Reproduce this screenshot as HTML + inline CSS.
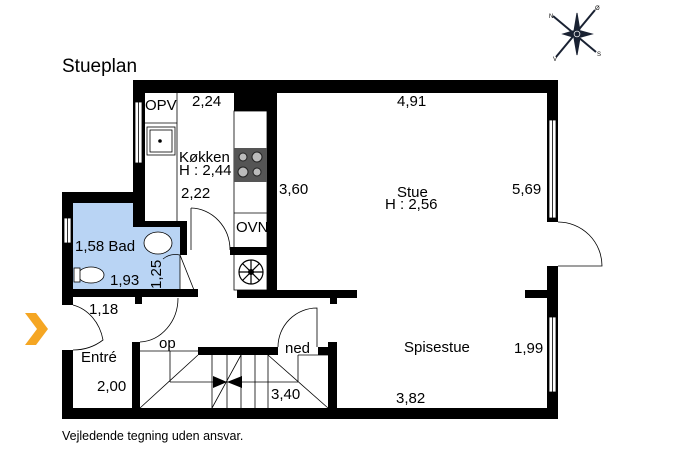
<!DOCTYPE html>
<html><head><meta charset="utf-8"><style>
html,body{margin:0;padding:0;background:#fff;}
svg{display:block;}
text{font-family:"Liberation Sans",Arial,sans-serif;fill:#000;}
</style></head><body>
<svg width="687" height="457" viewBox="0 0 687 457" xmlns="http://www.w3.org/2000/svg">
<rect width="687" height="457" fill="#fff"/>
<text x="62" y="72" font-size="19">Stueplan</text>
<text x="62" y="440" font-size="12.5">Vejledende tegning uden ansvar.</text>

<!-- compass -->
<g stroke="#1a2233" fill="#1a2233">
<line x1="553" y1="16" x2="596" y2="52" stroke-width="2"/>
<line x1="595" y1="10" x2="556" y2="57" stroke-width="2"/>
<polygon points="577,13 580,31 577,34 574,31"/>
<polygon points="577,55 580,38 577,35 574,38"/>
<polygon points="563,34 573,31 575,34 573,37"/>
<polygon points="592,34 581,31 579,34 581,37"/>
<circle cx="577" cy="34" r="4" fill="#fff" stroke-width="1.5"/>
<circle cx="577" cy="34" r="2"/>
</g>
<text x="549" y="18" font-size="6">N</text>
<text x="595" y="10" font-size="6">Ø</text>
<text x="553" y="61" font-size="6">V</text>
<text x="597" y="56" font-size="6">S</text>

<!-- bath fill -->
<rect x="73" y="203" width="72" height="87" fill="#b9d4f4"/>
<rect x="145" y="227" width="35" height="63" fill="#b9d4f4"/>

<!-- walls -->
<g fill="#000">
<rect x="133" y="80" width="425" height="13"/>
<rect x="133" y="80" width="12" height="147"/>
<rect x="133" y="221" width="54" height="6"/>
<rect x="180" y="221" width="7" height="34"/>
<rect x="62" y="192" width="83" height="11"/>
<rect x="62" y="192" width="11" height="113"/>
<rect x="62" y="350" width="11" height="69"/>
<rect x="62" y="289" width="136" height="8"/>
<rect x="135" y="297" width="7" height="7"/>
<rect x="237" y="290" width="120" height="8"/>
<rect x="330" y="298" width="7" height="6"/>
<rect x="234" y="93" width="43" height="18"/>
<rect x="267" y="93" width="10" height="204"/>
<rect x="230" y="247" width="37" height="8"/>
<rect x="547" y="80" width="11" height="142"/>
<rect x="547" y="266" width="11" height="153"/>
<rect x="525" y="290" width="23" height="8"/>
<rect x="62" y="408" width="496" height="11"/>
<rect x="132" y="342" width="8" height="66"/>
<rect x="198" y="347" width="80" height="8"/>
<rect x="318" y="347" width="10" height="8"/>
<rect x="328" y="342" width="9" height="66"/>
</g>

<!-- windows -->
<g fill="#fff" stroke="#000" stroke-width="0.8">
<rect x="135" y="102" width="7" height="61"/>
<line x1="138.5" y1="102" x2="138.5" y2="163"/>
<rect x="64" y="218" width="7" height="25"/>
<line x1="67.5" y1="218" x2="67.5" y2="243"/>
<rect x="549" y="120" width="7" height="98"/>
<line x1="552.5" y1="120" x2="552.5" y2="218"/>
<rect x="549" y="317" width="7" height="75"/>
<line x1="552.5" y1="317" x2="552.5" y2="392"/>
</g>

<!-- kitchen -->
<g stroke="#000" stroke-width="0.8" fill="none">
<line x1="177" y1="93" x2="177" y2="221"/>
<line x1="145" y1="123" x2="177" y2="123"/>
<rect x="147" y="127" width="28" height="28"/>
<rect x="150" y="130" width="22" height="22"/>
<rect x="234" y="111" width="33" height="179"/>
<line x1="234" y1="213" x2="267" y2="213"/>
<line x1="191" y1="208" x2="191" y2="250"/>
<path d="M191,208 A40,42 0 0 1 230,250"/>
<path d="M558,222 A44,44 0 0 1 602,266 L558,266"/>
<path d="M73,305 A40,45 0 0 1 103,340 Q90,350 73,350"/>
<path d="M178,298 A40,44 0 0 1 140,342"/>
<path d="M317,347 L317,308 A39,39 0 0 0 278,347"/>
<line x1="180" y1="255" x2="180" y2="290"/>
<path d="M163,259 Q170,253 180,255 L194,290"/>
</g>
<circle cx="160" cy="141" r="1.8" fill="#000"/>
<rect x="234" y="148" width="33" height="34" fill="#555"/>
<g fill="#bbb" stroke="#222" stroke-width="1">
<circle cx="243" cy="157" r="4"/><circle cx="257" cy="157" r="5"/>
<circle cx="243" cy="172" r="5"/><circle cx="257" cy="172" r="4"/>
</g>
<circle cx="251" cy="272" r="12" fill="#fff" stroke="#000" stroke-width="1.2"/>
<g stroke="#000" stroke-width="1.2">
<line x1="239" y1="272" x2="263" y2="272"/><line x1="251" y1="260" x2="251" y2="284"/>
<line x1="242.5" y1="263.5" x2="259.5" y2="280.5"/><line x1="259.5" y1="263.5" x2="242.5" y2="280.5"/>
</g>
<circle cx="251" cy="272" r="3" fill="#000"/>

<!-- bath fixtures -->
<ellipse cx="158" cy="243" rx="14" ry="11" fill="#fff" stroke="#000" stroke-width="0.8"/>
<ellipse cx="91" cy="275" rx="13" ry="8" fill="#fff" stroke="#000" stroke-width="0.8"/>
<rect x="74" y="268" width="6" height="14" fill="#fff" stroke="#000" stroke-width="0.8"/>

<!-- stairs -->
<g stroke="#000" stroke-width="0.8" fill="none">
<line x1="140" y1="351" x2="198" y2="351"/>
<line x1="170" y1="351" x2="170" y2="382"/>
<line x1="170" y1="382" x2="298" y2="382"/>
<line x1="298" y1="355" x2="298" y2="382"/>
<line x1="298" y1="355" x2="328" y2="355"/>
<line x1="212" y1="355" x2="212" y2="408"/>
<line x1="227" y1="355" x2="227" y2="408"/>
<line x1="241" y1="355" x2="241" y2="408"/>
<line x1="255" y1="355" x2="255" y2="408"/>
<line x1="268" y1="355" x2="268" y2="408"/>
<line x1="140" y1="408" x2="198" y2="355"/>
<line x1="268" y1="355" x2="328" y2="408"/>
<line x1="241" y1="355" x2="212" y2="408"/>
</g>
<polygon points="213,376 227,382 213,388" fill="#000"/>
<polygon points="242,376 227,382 242,388" fill="#000"/>

<!-- entry arrow -->
<polygon points="25,313 36,313 48,329 36,345 25,345 37,329" fill="#f5a623"/>

<!-- labels -->
<g font-size="15">
<text x="145" y="110">OPV</text>
<text x="192" y="106">2,24</text>
<text x="179" y="162">Køkken</text>
<text x="179" y="175">H : 2,44</text>
<text x="181" y="198">2,22</text>
<text x="279" y="194">3,60</text>
<text x="397" y="106">4,91</text>
<text x="397" y="197">Stue</text>
<text x="385" y="209">H : 2,56</text>
<text x="512" y="194">5,69</text>
<text x="236" y="232">OVN</text>
<text x="75" y="251">1,58 Bad</text>
<text x="110" y="285">1,93</text>
<text x="89" y="314">1,18</text>
<text x="81" y="362">Entré</text>
<text x="97" y="391">2,00</text>
<text x="159" y="348">op</text>
<text x="285" y="353">ned</text>
<text x="271" y="399">3,40</text>
<text x="404" y="352">Spisestue</text>
<text x="514" y="353">1,99</text>
<text x="396" y="403">3,82</text>
<text transform="translate(161,289) rotate(-90)">1,25</text>
</g>
</svg>
</body></html>
